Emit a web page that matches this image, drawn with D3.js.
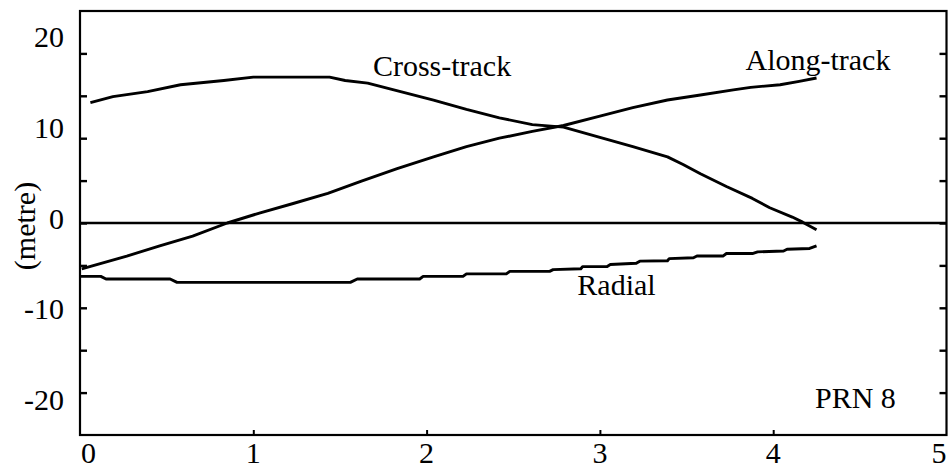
<!DOCTYPE html>
<html>
<head>
<meta charset="utf-8">
<script src="https://cdn.jsdelivr.net/npm/d3@7"></script>
<style>
  html, body { margin: 0; padding: 0; background: #fff; }
  svg { display: block; font-family: "Liberation Serif", "Times New Roman", serif; }
</style>
</head>
<body>
<svg id="chart" width="949" height="468"></svg>
<script>
// Orbit error components for PRN 8 (metres) against time
const crossT = [0.06, 0.19, 0.39, 0.58, 0.83, 1.00, 1.44, 1.53, 1.66, 1.85, 2.04, 2.23, 2.42, 2.61, 2.79, 3.00, 3.19, 3.39, 3.48, 3.58, 3.73, 3.88, 3.98, 4.11, 4.17, 4.25];
const crossV = [14.2, 14.9, 15.5, 16.3, 16.8, 17.2, 17.2, 16.8, 16.5, 15.5, 14.5, 13.4, 12.4, 11.6, 11.3, 10.1, 9.0, 7.8, 6.9, 5.8, 4.3, 2.9, 1.8, 0.7, 0.1, -0.8];

const alongT = [0.01, 0.27, 0.46, 0.65, 0.85, 1.04, 1.23, 1.43, 1.62, 1.83, 2.04, 2.23, 2.42, 2.61, 2.79, 3.00, 3.19, 3.39, 3.58, 3.77, 3.87, 4.04, 4.15, 4.25];
const alongV = [-5.4, -3.9, -2.7, -1.55, 0.0, 1.2, 2.3, 3.5, 4.9, 6.4, 7.8, 9.0, 10.0, 10.8, 11.5, 12.6, 13.6, 14.5, 15.1, 15.7, 16.0, 16.3, 16.7, 17.1];

const radialT = [0.00, 0.12, 0.15, 0.52, 0.56, 1.56, 1.60, 1.96, 1.98, 2.21, 2.23, 2.46, 2.48, 2.71, 2.73, 2.89, 2.90, 3.04, 3.06, 3.21, 3.23, 3.39, 3.40, 3.54, 3.56, 3.71, 3.73, 3.88, 3.91, 4.06, 4.08, 4.21, 4.25];
const radialV = [-6.3, -6.3, -6.6, -6.6, -7.0, -7.0, -6.6, -6.6, -6.3, -6.3, -6.0, -6.0, -5.7, -5.7, -5.5, -5.4, -5.15, -5.15, -4.9, -4.75, -4.5, -4.45, -4.2, -4.1, -3.9, -3.9, -3.6, -3.6, -3.4, -3.3, -3.1, -3.0, -2.7];

const xTicks = [1, 2, 3, 4];
const xLabels = [0, 1, 2, 3, 4, 5];
const yTicks = [-20, -15, -10, -5, 0, 5, 10, 15, 20];
const yLabels = [-20, -10, 0, 10, 20];

const seriesNames = ["Cross-track", "Along-track", "Radial"];
const plotTitle = "PRN 8";
const yTitle = "(metre)";

const svg = d3.select("#chart");
const plotLeft = 80, plotRight = 946.5, plotTop = 11, plotBottom = 435;

const x = d3.scaleLinear().domain([0, 5]).range([plotLeft, plotRight]);
const y = d3.scaleLinear().domain([-25, 25]).range([plotBottom, plotTop]);
// tick labels on the vertical axis are set on their own, slightly wider spacing
const yLab = d3.scaleLinear().domain([-20, 20]).range([410, 47]);

const fontSize = 30;

// inward ticks on left and right edges
svg.append("g")
  .attr("transform", `translate(${plotLeft},0)`)
  .call(d3.axisRight(y).tickValues(yTicks).tickSize(7).tickFormat(""))
  .call(g => g.select(".domain").remove())
  .selectAll("line").attr("stroke", "#000").attr("stroke-width", 2.4);

svg.append("g")
  .attr("transform", `translate(${plotRight},0)`)
  .call(d3.axisLeft(y).tickValues(yTicks).tickSize(7).tickFormat(""))
  .call(g => g.select(".domain").remove())
  .selectAll("line").attr("stroke", "#000").attr("stroke-width", 2.4);

// upward ticks on the time axis
svg.append("g")
  .attr("transform", `translate(0,${plotBottom})`)
  .call(d3.axisTop(x).tickValues(xTicks).tickSize(5).tickFormat(""))
  .call(g => g.select(".domain").remove())
  .selectAll("line").attr("stroke", "#000").attr("stroke-width", 2);

// frame
svg.append("rect")
  .attr("x", plotLeft).attr("y", plotTop)
  .attr("width", plotRight - plotLeft).attr("height", plotBottom - plotTop)
  .attr("fill", "none").attr("stroke", "#000").attr("stroke-width", 2.2);

// zero line
svg.append("line")
  .attr("x1", plotLeft).attr("x2", plotRight)
  .attr("y1", y(0)).attr("y2", y(0))
  .attr("stroke", "#000").attr("stroke-width", 2.6);

// y tick labels
svg.append("g").selectAll("text")
  .data(yLabels).join("text")
  .attr("x", 64)
  .attr("y", d => yLab(d))
  .attr("text-anchor", "end")
  .attr("font-size", fontSize)
  .text(d => d);

// x tick labels (end labels kept inside the frame)
const lastX = xLabels.length - 1;
svg.append("g").selectAll("text")
  .data(xLabels).join("text")
  .attr("x", (d, i) => i === 0 ? x(d) + 1 : x(d))
  .attr("y", 463)
  .attr("text-anchor", (d, i) => i === 0 ? "start" : (i === lastX ? "end" : "middle"))
  .attr("font-size", fontSize)
  .text(d => d);

// y title
svg.append("text")
  .attr("transform", `translate(35,226) rotate(-90)`)
  .attr("text-anchor", "middle")
  .attr("font-size", fontSize)
  .text(yTitle);

// series lines
const line = d3.line().x(d => x(d[0])).y(d => y(d[1]));
const series = [
  d3.zip(crossT, crossV),
  d3.zip(alongT, alongV),
  d3.zip(radialT, radialV)
];
svg.append("g").selectAll("path")
  .data(series).join("path")
  .attr("d", line)
  .attr("fill", "none")
  .attr("stroke", "#000")
  .attr("stroke-width", 2.9)
  .attr("stroke-linejoin", "round");

// series labels
const labelPos = [
  { name: seriesNames[0], t: 1.69, v: 17.3 },
  { name: seriesNames[1], t: 3.84, v: 18.1 },
  { name: seriesNames[2], t: 2.87, v: -8.5 }
];
svg.append("g").selectAll("text")
  .data(labelPos).join("text")
  .attr("x", d => x(d.t))
  .attr("y", d => y(d.v))
  .attr("font-size", fontSize)
  .text(d => d.name);

svg.append("text")
  .attr("x", 815).attr("y", 408)
  .attr("font-size", fontSize)
  .text(plotTitle);
</script>
</body>
</html>
